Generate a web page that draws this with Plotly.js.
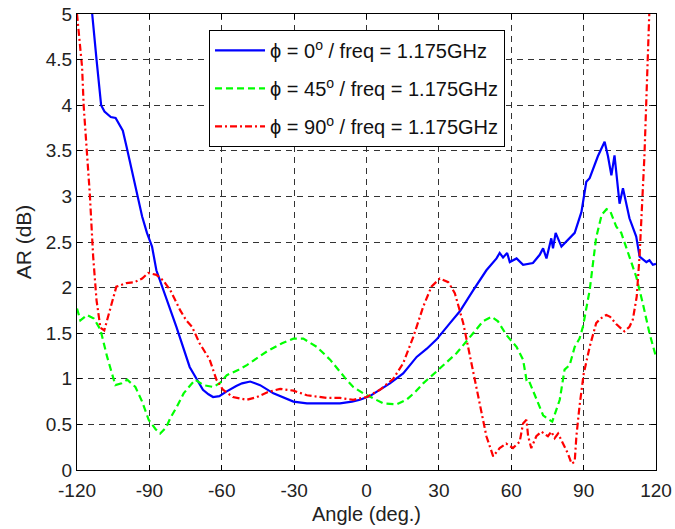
<!DOCTYPE html>
<html>
<head>
<meta charset="utf-8">
<script src="https://cdn.plot.ly/plotly-3.0.1.min.js"></script>
<style>html,body{margin:0;padding:0;background:#fff;}#chart{width:675px;height:529px;}</style>
</head>
<body>
<div id="chart"></div>
<script>
// ---- data ----
const xTickVals = [-120, -90, -60, -30, 0, 30, 60, 90, 120];
const xTickText = ["-120", "-90", "-60", "-30", "0", "30", "60", "90", "120"];

const seriesNames = [
  "\u03d5 = 0<sup>o</sup> / freq = 1.175GHz",
  "\u03d5 = 45<sup>o</sup> / freq = 1.175GHz",
  "\u03d5 = 90<sup>o</sup> / freq = 1.175GHz"
];

const angle0 = [-115, -113.7, -111.9, -110, -108.6, -106, -104, -102.7, -101, -99.5, -97, -94.4, -93, -91, -88.9, -87.1, -83.7, -78.8, -73.3, -70, -67.8, -65.5, -63.6, -61, -58.1, -54, -51.6, -48.2, -44.1, -38.6, -34, -30.3, -24.7, -18, -11, -6, -2.7, 1.4, 5, 9.7, 15.2, 20.8, 25, 29, 34.6, 38.7, 44.2, 49.7, 53.9, 55.2, 56.6, 58.3, 59.4, 62.2, 64.9, 69, 71.8, 73.2, 74.6, 76.6, 77.3, 78.4, 80.8, 83.5, 86.3, 89.1, 91.1, 92.5, 95.9, 98.7, 100.1, 101.5, 102.8, 104.9, 106.3, 109, 111.8, 113.2, 116, 117.3, 118.7, 120];
const ar0 = [5.6, 5.0, 4.5, 4.0, 3.93, 3.87, 3.86, 3.80, 3.72, 3.55, 3.26, 2.96, 2.78, 2.60, 2.45, 2.19, 1.94, 1.57, 1.13, 0.98, 0.88, 0.83, 0.80, 0.81, 0.86, 0.92, 0.95, 0.97, 0.93, 0.84, 0.79, 0.75, 0.73, 0.73, 0.73, 0.75, 0.77, 0.81, 0.87, 0.95, 1.06, 1.24, 1.33, 1.43, 1.61, 1.74, 1.97, 2.19, 2.32, 2.38, 2.33, 2.38, 2.28, 2.32, 2.25, 2.27, 2.36, 2.43, 2.32, 2.54, 2.43, 2.60, 2.45, 2.52, 2.60, 2.83, 3.16, 3.20, 3.44, 3.60, 3.44, 3.23, 3.45, 2.92, 3.09, 2.76, 2.56, 2.34, 2.28, 2.30, 2.25, 2.26];

const angle45 = [-120, -118.6, -115.8, -113, -110.3, -107.5, -104.1, -101.5, -99.2, -95.8, -93, -90.3, -87.5, -85.5, -83, -81.3, -78.5, -75.8, -73, -71, -67.5, -63.4, -60.5, -57.9, -53, -49.6, -41.3, -35, -30.3, -26.2, -20.6, -15.1, -8.9, -5.5, -1.3, 2.8, 7, 12.5, 16.6, 20, 23.5, 29, 37.3, 44.2, 48.3, 51.8, 54.5, 58, 62.2, 64.9, 66.3, 67, 70.4, 73.2, 75.2, 77, 80.1, 82.1, 84.2, 86.3, 88.3, 89.7, 92.5, 95.2, 97.5, 99.5, 101, 103.5, 105.6, 107.6, 111.8, 114.5, 117.3, 120];
const ar45 = [1.77, 1.64, 1.70, 1.66, 1.54, 1.24, 0.93, 0.95, 0.99, 0.91, 0.75, 0.55, 0.45, 0.40, 0.47, 0.57, 0.70, 0.84, 0.93, 0.99, 0.93, 0.91, 0.96, 1.04, 1.10, 1.15, 1.30, 1.39, 1.44, 1.44, 1.35, 1.21, 1.01, 0.91, 0.84, 0.79, 0.73, 0.72, 0.77, 0.85, 0.95, 1.08, 1.28, 1.50, 1.63, 1.68, 1.63, 1.48, 1.35, 1.21, 0.99, 1.00, 0.77, 0.60, 0.56, 0.53, 0.77, 1.10, 1.15, 1.35, 1.44, 1.57, 1.97, 2.55, 2.80, 2.86, 2.84, 2.67, 2.60, 2.45, 2.12, 1.83, 1.50, 1.24];

const angle90 = [-120, -119.3, -117.9, -117.2, -114.7, -113.3, -111.9, -110.3, -108.7, -106.4, -103.7, -99.5, -96.1, -93, -90.5, -87.1, -84.3, -81.3, -77.2, -74.7, -72.3, -69.2, -65, -62.2, -59.5, -55.4, -49.6, -45.4, -41.3, -35.8, -30.3, -24.7, -16.5, -11, -5.5, 0.1, 5.6, 11.1, 15.2, 19.4, 23.5, 26.9, 30.4, 33.9, 36.6, 40.1, 43.5, 47, 49.7, 52.5, 55.2, 57.9, 60.7, 63.5, 64.9, 66.3, 67, 68.3, 70.4, 72.5, 75.2, 76.6, 78, 79.4, 81.4, 83.5, 85, 86.3, 87, 88.3, 90, 92.5, 95.2, 97, 99.4, 101, 103.5, 106.9, 109, 110.4, 112, 113.2, 115.2, 116.6, 117.3, 118.5];
const ar90 = [5.0, 4.79, 4.42, 3.98, 3.03, 2.34, 1.86, 1.56, 1.53, 1.75, 2.01, 2.05, 2.06, 2.10, 2.16, 2.14, 2.08, 1.97, 1.75, 1.64, 1.57, 1.39, 1.21, 0.99, 0.88, 0.80, 0.77, 0.80, 0.85, 0.89, 0.87, 0.82, 0.79, 0.79, 0.77, 0.80, 0.88, 1.00, 1.17, 1.46, 1.79, 2.01, 2.10, 2.06, 1.94, 1.61, 1.17, 0.73, 0.37, 0.15, 0.24, 0.29, 0.24, 0.31, 0.51, 0.55, 0.37, 0.24, 0.37, 0.42, 0.37, 0.42, 0.35, 0.40, 0.29, 0.18, 0.07, 0.09, 0.37, 0.70, 1.05, 1.35, 1.61, 1.66, 1.70, 1.68, 1.60, 1.52, 1.57, 1.65, 1.90, 2.35, 3.44, 4.5, 5.0, 6.0];

const xTitle = "Angle (deg.)";
const yTitle = "AR (dB)";

// ---- chart ----
const FONT = "Liberation Sans, Arial, Helvetica, sans-serif";
const traces = [
  {x: angle0, y: ar0, name: seriesNames[0], legendgroup: "a", line: {color: "#0000ff", width: 2.2, dash: "solid"}},
  {x: angle45, y: ar45, name: seriesNames[1], legendgroup: "b", line: {color: "#00ff00", width: 2.2, dash: "7px,4px"}},
  {x: angle90, y: ar90, name: seriesNames[2], legendgroup: "c", line: {color: "#ff0000", width: 2.2, dash: "7px,3px,2px,3px"}}
].map(t => Object.assign({type: "scatter", mode: "lines"}, t));

const axisCommon = {
  showline: true, mirror: "ticks", linecolor: "#000", linewidth: 1,
  ticks: "inside", ticklen: 5, tickcolor: "#000", tickwidth: 1,
  showgrid: true, gridcolor: "#333", gridwidth: 1, griddash: "6px,5px",
  zeroline: false, tickfont: {family: FONT, size: 19, color: "#222"}
};

const layout = {
  width: 675, height: 529,
  margin: {l: 77, r: 19, t: 14, b: 59},
  paper_bgcolor: "#fff", plot_bgcolor: "#fff",
  font: {family: FONT, color: "#222"},
  showlegend: true,
  legend: {
    x: 0.228, y: 0.965, xanchor: "left", yanchor: "top",
    bgcolor: "#fff", bordercolor: "#000", borderwidth: 1,
    font: {family: FONT, size: 20, color: "#111"},
    tracegroupgap: 9, itemwidth: 50
  },
  xaxis: Object.assign({}, axisCommon, {
    range: [-120, 120], tickvals: xTickVals, ticktext: xTickText,
    ticklabelstandoff: 3,
    title: {text: xTitle, font: {family: FONT, size: 20, color: "#222"}, standoff: 7}
  }),
  yaxis: Object.assign({}, axisCommon, {
    range: [0, 5], dtick: 0.5, tick0: 0,
    title: {text: yTitle, font: {family: FONT, size: 21, color: "#222"}, standoff: 8}
  })
};

Plotly.newPlot("chart", traces, layout, {displayModeBar: false, staticPlot: true});
</script>
</body>
</html>
